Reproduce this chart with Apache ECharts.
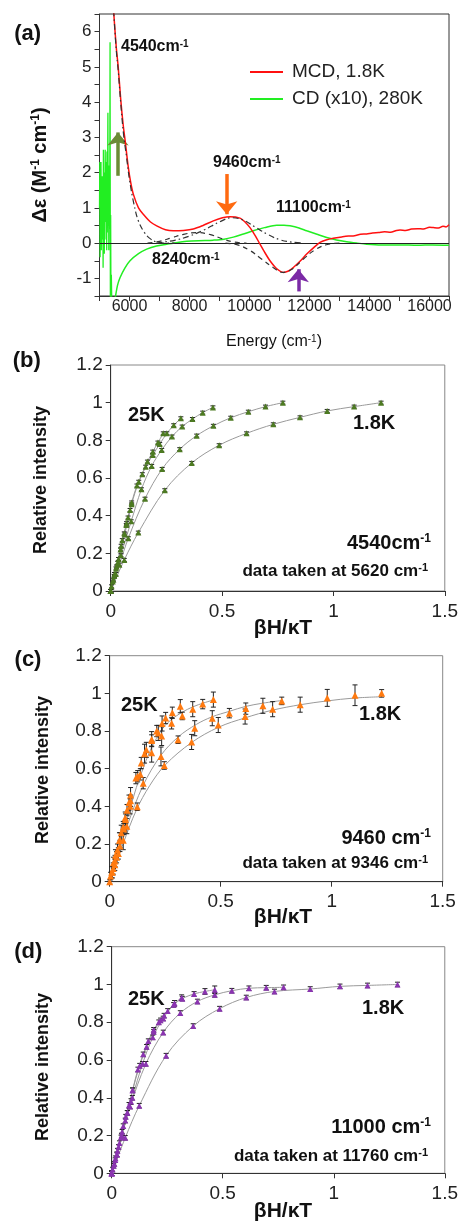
<!DOCTYPE html>
<html><head><meta charset="utf-8">
<script src="https://cdn.jsdelivr.net/npm/echarts@6/dist/echarts.min.js"></script>
<style>html,body{margin:0;padding:0;background:#fff}#c{width:461px;height:1224px}</style>
</head><body><div id="c"></div>
<script>
// ---------- Panel (a) data : energy (cm-1), delta-epsilon ----------
const mcd = [[5460,6.7],[5477,6.5],[5557,5.57],[5623,5.0],[5710,4.05],[5790,3.35],[5867,2.82],[5960,2.15],[6040,1.72],[6127,1.39],[6300,1.0],[6460,0.82],[6700,0.6],[6907,0.49],[7200,0.38],[7460,0.35],[7800,0.36],[8127,0.4],[8450,0.5],[8793,0.63],[9100,0.72],[9350,0.75],[9683,0.71],[9850,0.6],[10017,0.44],[10200,0.2],[10350,-0.03],[10520,-0.28],[10683,-0.5],[10900,-0.72],[11127,-0.83],[11300,-0.79],[11460,-0.69],[11700,-0.5],[11907,-0.31],[12150,-0.12],[12350,0.02],[12550,0.09],[12793,0.14],[13100,0.18],[13300,0.2],[13500,0.21],[13700,0.25],[13907,0.26],[14100,0.29],[14300,0.3],[14500,0.32],[14700,0.31],[14900,0.36],[15017,0.37],[15200,0.36],[15400,0.4],[15600,0.41],[15800,0.4],[16000,0.45],[16127,0.44],[16300,0.43],[16450,0.48],[16550,0.46],[16650,0.52]];
const cdNoise = [[5000,1.0],[5010,2.3],[5020,-0.4],[5030,1.6],[5040,0.3],[5050,2.3],[5060,-0.2],[5070,1.2],[5080,0.2],[5090,1.9],[5100,0.1],[5110,1.4],[5120,-0.7],[5130,2.65],[5140,0.4],[5150,1.5],[5160,-0.3],[5170,2.0],[5180,0.6],[5190,2.65],[5200,0.8],[5210,2.3],[5220,0.1],[5230,1.7],[5240,-0.2],[5250,2.6],[5260,0.3],[5270,1.9],[5280,3.7],[5290,0.5],[5300,2.2],[5310,-0.2],[5320,1.6],[5330,2.15],[5340,0.4],[5352,5.7],[5362,-1.6],[5372,0.8],[5382,-1.6],[5395,-0.9],[5410,-1.7],[5440,-1.7],[5480,-1.6],[5517,-1.6]];
const cd = [[5517,-1.6],[5600,-1.2],[5683,-0.98],[5850,-0.7],[6017,-0.5],[6300,-0.3],[6573,-0.17],[6900,-0.08],[7240,-0.03],[7600,0.02],[7907,0.05],[8300,0.07],[8793,0.085],[9150,0.11],[9460,0.17],[9800,0.26],[10127,0.35],[10500,0.44],[10907,0.51],[11150,0.51],[11350,0.49],[11650,0.43],[11907,0.35],[12250,0.25],[12573,0.16],[12900,0.09],[13240,0.04],[13600,0.0],[13907,-0.03],[14400,-0.05],[15017,-0.05],[15600,-0.06],[16100,-0.05],[16650,-0.06]];
const band4540 = [[5470,6.6],[5557,5.5],[5623,4.9],[5710,3.95],[5800,3.1],[5900,2.45],[6000,1.8],[6150,1.1],[6300,0.62],[6500,0.3],[6700,0.12],[6900,0.03],[7100,0],[7500,0]];
const band8240 = [[6600,0],[7000,0.05],[7400,0.15],[7800,0.25],[8240,0.3],[8700,0.24],[9100,0.12],[9500,0.03],[9900,0]];
const band9460 = [[6900,0],[7500,0.08],[8000,0.2],[8500,0.38],[9000,0.6],[9400,0.72],[9800,0.65],[10200,0.45],[10600,0.25],[11000,0.1],[11400,0.03],[11800,0]];
const band11000 = [[9200,0],[9600,-0.05],[10000,-0.2],[10400,-0.45],[10800,-0.7],[11100,-0.83],[11400,-0.75],[11800,-0.45],[12200,-0.18],[12600,-0.04],[13000,0]];
// arrows: [energy, from, to]
const arrowGreen = [5617, 1.91, 3.14];
const arrowOrange = [9240, 1.96, 0.82];
const arrowPurple = [11627, -1.37, -0.74];

// ---------- Panel (b) : [betaH/kT, relative intensity, error] ----------
const b18 = [[0,0,0.008],[0.061,0.165,0.008],[0.124,0.31,0.008],[0.243,0.535,0.008],[0.364,0.68,0.008],[0.487,0.774,0.008],[0.61,0.837,0.008],[0.73,0.885,0.008],[0.85,0.922,0.008],[0.972,0.956,0.008],[1.093,0.979,0.008],[1.214,1.0,0.008]];
const b28 = [[0,0,0.008],[0.039,0.14,0.008],[0.079,0.28,0.008],[0.154,0.49,0.008],[0.231,0.648,0.008],[0.31,0.753,0.008],[0.386,0.825,0.008],[0.461,0.877,0.008],[0.539,0.92,0.008],[0.618,0.952,0.008],[0.695,0.979,0.008],[0.773,1.0,0.008]];
const b47 = [[0,0,0.008],[0.023,0.09,0.008],[0.046,0.19,0.008],[0.092,0.37,0.008],[0.138,0.54,0.008],[0.184,0.664,0.008],[0.229,0.749,0.008],[0.275,0.82,0.008],[0.321,0.873,0.008],[0.367,0.913,0.008],[0.413,0.947,0.008],[0.459,0.975,0.008]];
const b7 = [[0,0,0.008],[0.016,0.08,0.008],[0.031,0.15,0.008],[0.063,0.3,0.008],[0.094,0.46,0.008],[0.126,0.58,0.008],[0.157,0.66,0.008],[0.189,0.722,0.008],[0.22,0.78,0.008],[0.252,0.837,0.008],[0.283,0.88,0.008],[0.315,0.917,0.008]];
const b10 = [[0,0,0.008],[0.012,0.06,0.008],[0.024,0.12,0.008],[0.047,0.24,0.008],[0.071,0.36,0.008],[0.094,0.47,0.008],[0.118,0.56,0.008],[0.142,0.62,0.008],[0.165,0.687,0.008],[0.189,0.74,0.008],[0.212,0.788,0.008],[0.236,0.837,0.008]];
const b25 = [[0,0,0.008],[0.004,0.025,0.008],[0.009,0.05,0.008],[0.017,0.09,0.008],[0.026,0.13,0.008],[0.035,0.17,0.008],[0.044,0.22,0.008],[0.052,0.27,0.008],[0.061,0.306,0.008],[0.07,0.35,0.008],[0.078,0.39,0.008],[0.087,0.43,0.008]];

// ---------- Panel (c) ----------
const c18 = [[0.061,0.22,0.05],[0.124,0.398,0.02],[0.246,0.617,0.02],[0.369,0.742,0.04],[0.489,0.832,0.04],[0.61,0.877,0.04],[0.734,0.916,0.04],[0.858,0.94,0.04],[0.98,0.976,0.045],[1.105,0.99,0.055],[1.225,1.0,0.02]];
const c28 = [[0.039,0.15,0.03],[0.077,0.295,0.04],[0.151,0.523,0.03],[0.231,0.665,0.05],[0.308,0.754,0.02],[0.383,0.815,0.04],[0.462,0.868,0.04],[0.539,0.895,0.025],[0.613,0.919,0.03],[0.69,0.934,0.04],[0.775,0.96,0.02]];
const c47 = [[0.023,0.09,0.03],[0.046,0.19,0.03],[0.092,0.4,0.04],[0.138,0.57,0.03],[0.189,0.685,0.05],[0.234,0.773,0.05],[0.279,0.841,0.03],[0.327,0.88,0.02],[0.374,0.916,0.04],[0.419,0.943,0.025],[0.467,0.967,0.04]];
const c7 = [[0.016,0.07,0.03],[0.031,0.13,0.03],[0.063,0.28,0.03],[0.094,0.43,0.03],[0.126,0.56,0.03],[0.157,0.68,0.05],[0.189,0.757,0.04],[0.219,0.79,0.04],[0.252,0.869,0.03],[0.282,0.897,0.03],[0.318,0.932,0.035]];
const c10 = [[0.012,0.05,0.03],[0.024,0.11,0.03],[0.047,0.22,0.04],[0.071,0.33,0.03],[0.094,0.46,0.04],[0.118,0.55,0.03],[0.142,0.63,0.03],[0.165,0.7,0.04],[0.189,0.75,0.03],[0.212,0.8,0.03],[0.236,0.84,0.04]];
const c25 = [[0,0,0.01],[0.004,0.03,0.02],[0.009,0.05,0.03],[0.017,0.1,0.03],[0.026,0.14,0.03],[0.035,0.17,0.03],[0.044,0.22,0.04],[0.052,0.26,0.04],[0.061,0.29,0.03],[0.07,0.34,0.03],[0.078,0.38,0.03],[0.087,0.42,0.04]];
const cFit18 = [[0,0],[0.06,0.2],[0.12,0.38],[0.18,0.51],[0.25,0.62],[0.37,0.74],[0.49,0.82],[0.61,0.87],[0.73,0.91],[0.86,0.94],[0.98,0.96],[1.1,0.975],[1.225,0.982]];
const cFit28 = [[0,0],[0.04,0.15],[0.08,0.3],[0.15,0.51],[0.23,0.67],[0.31,0.77],[0.39,0.835],[0.46,0.875],[0.54,0.905],[0.61,0.93],[0.69,0.948],[0.775,0.962]];
const cFitHi = [[0,0],[0.03,0.13],[0.06,0.26],[0.09,0.38],[0.12,0.5],[0.15,0.6],[0.18,0.69],[0.21,0.76],[0.25,0.83],[0.3,0.88],[0.35,0.915],[0.4,0.94],[0.467,0.965]];

// ---------- Panel (d) ----------
const d18 = [[0,0,0.012],[0.061,0.188,0.012],[0.124,0.358,0.012],[0.245,0.623,0.012],[0.367,0.78,0.012],[0.486,0.872,0.012],[0.606,0.931,0.012],[0.733,0.963,0.012],[0.894,0.976,0.012],[1.028,0.99,0.012],[1.152,0.995,0.012],[1.287,1.0,0.012]];
const d28 = [[0,0,0.012],[0.042,0.19,0.012],[0.083,0.354,0.012],[0.154,0.58,0.012],[0.232,0.746,0.012],[0.309,0.849,0.012],[0.386,0.91,0.012],[0.464,0.945,0.012],[0.541,0.967,0.012],[0.618,0.98,0.012],[0.696,0.983,0.012],[0.774,0.985,0.012]];
const d47 = [[0,0,0.012],[0.023,0.1,0.012],[0.046,0.2,0.012],[0.093,0.4,0.012],[0.139,0.58,0.012],[0.185,0.72,0.012],[0.232,0.82,0.012],[0.279,0.892,0.012],[0.318,0.925,0.012],[0.371,0.95,0.012],[0.42,0.963,0.015],[0.464,0.972,0.02]];
const d7 = [[0,0,0.012],[0.016,0.07,0.012],[0.031,0.14,0.012],[0.063,0.3,0.012],[0.094,0.44,0.012],[0.126,0.57,0.012],[0.157,0.67,0.012],[0.189,0.75,0.012],[0.22,0.81,0.012],[0.252,0.86,0.012],[0.283,0.9,0.015],[0.315,0.93,0.015]];
const d10 = [[0,0,0.012],[0.012,0.05,0.012],[0.024,0.1,0.012],[0.047,0.22,0.012],[0.071,0.32,0.012],[0.094,0.44,0.012],[0.118,0.55,0.012],[0.142,0.63,0.012],[0.165,0.7,0.012],[0.189,0.76,0.012],[0.212,0.8,0.012],[0.236,0.835,0.012]];
const d25 = [[0,0,0.012],[0.004,0.02,0.012],[0.009,0.04,0.012],[0.017,0.08,0.012],[0.026,0.12,0.012],[0.035,0.16,0.012],[0.044,0.2,0.012],[0.052,0.25,0.012],[0.061,0.28,0.012],[0.07,0.32,0.012],[0.078,0.36,0.015],[0.087,0.38,0.015]];

const xTicksA = [6000, 8000, 10000, 12000, 14000, 16000];

// ---------- build chart ----------
const FF = "'Liberation Sans', Arial, sans-serif";
const chart = echarts.init(document.getElementById('c'), null, {renderer:'canvas'});

function errRender(params, api){
  const x = api.value(0), y = api.value(1), e = api.value(2);
  const t = api.coord([x, y + e]), b = api.coord([x, y - e]);
  const hw = 2.5, st = {stroke:'#222', lineWidth:1};
  return {type:'group', children:[
    {type:'line', shape:{x1:t[0], y1:t[1], x2:b[0], y2:b[1]}, style:st},
    {type:'line', shape:{x1:t[0]-hw, y1:t[1], x2:t[0]+hw, y2:t[1]}, style:st},
    {type:'line', shape:{x1:b[0]-hw, y1:b[1], x2:b[0]+hw, y2:b[1]}, style:st}
  ]};
}
const xy = a => a.map(p => [p[0], p[1]]);
const series = [];
// panel a
series.push({name:'MCD, 1.8K', type:'line', xAxisIndex:0, yAxisIndex:0, data:mcd, smooth:0.3, symbol:'none', lineStyle:{color:'#ff1010', width:1.5}, itemStyle:{color:'#ff1010'}, z:5,
  markLine:{silent:true, symbol:'none', label:{show:false}, lineStyle:{color:'#222', width:1, type:'solid'}, data:[{yAxis:0}]}});
series.push({name:'CD (x10), 280K', type:'line', xAxisIndex:0, yAxisIndex:0, data:cdNoise, smooth:false, symbol:'none', lineStyle:{color:'#22ee22', width:1.3}, itemStyle:{color:'#22ee22'}, z:4});
series.push({name:'CD (x10), 280K', type:'line', xAxisIndex:0, yAxisIndex:0, data:cd, smooth:0.3, symbol:'none', lineStyle:{color:'#22ee22', width:1.5}, itemStyle:{color:'#22ee22'}, z:4});
const dashDot = [6,3,1.5,3];
[[band4540, dashDot],[band8240,[5,4]],[band9460,dashDot],[band11000,[5,4]]].forEach(([d, t]) => {
  series.push({name:'fit', type:'line', xAxisIndex:0, yAxisIndex:0, data:d, smooth:0.4, symbol:'none', lineStyle:{color:'#333', width:1.2, type:t}, z:6});
});
function arrow(a, color){
  return {name:'arrow', type:'line', xAxisIndex:0, yAxisIndex:0, data:[], z:7,
    markLine:{silent:true, symbol:['none','arrow'], symbolSize:[16,13], label:{show:false},
      lineStyle:{color:color, width:3.5, type:'solid', opacity:1},
      data:[[{coord:[a[0], a[1]]},{coord:[a[0], a[2]]}]]}};
}
series.push(arrow(arrowGreen, '#6b8b35'));
series.push(arrow(arrowOrange, '#ff6a10'));
series.push(arrow(arrowPurple, '#7b2aa6'));

// panels b,c,d
function addPanel(idx, curves, color, size, fits){
  const lines = fits || curves.map(xy);
  lines.forEach(d => series.push({type:'line', xAxisIndex:idx, yAxisIndex:idx, data:d, smooth:0.35, symbol:'none', lineStyle:{color:'#9a9a9a', width:1}, z:2}));
  curves.forEach(d => {
    series.push({type:'custom', xAxisIndex:idx, yAxisIndex:idx, data:d, renderItem:errRender, encode:{x:0, y:1}, z:3});
    series.push({type:'scatter', xAxisIndex:idx, yAxisIndex:idx, data:xy(d), symbol:'triangle', symbolSize:size, itemStyle:{color:color, opacity:1}, z:4});
  });
}
addPanel(1, [b18,b28,b47,b7,b10,b25], '#4d7a22', 6);
addPanel(2, [c18,c28,c47,c7,c10,c25], '#ff7a10', 7, [cFit18, cFit28, cFitHi]);
addPanel(3, [d18,d28,d47,d7,d10,d25], '#8a34b0', 6);

const grids = [
  {left:99.5, top:14, width:349.5, height:282, show:true, borderColor:'#333', borderWidth:1},
  {left:110.7, top:365, width:335, height:226, show:true, borderColor:'#888', borderWidth:1},
  {left:109.7, top:655.7, width:333, height:226, show:true, borderColor:'#888', borderWidth:1},
  {left:111.7, top:946.7, width:334, height:226.6, show:true, borderColor:'#888', borderWidth:1}
];
const xAxes = [
  {gridIndex:0, type:'value', min:5000, max:16650, interval:1000,
   axisLine:{show:true, onZero:false, lineStyle:{color:'#333'}}, axisTick:{show:true, length:5, lineStyle:{color:'#333'}},
   splitLine:{show:false}, axisLabel:{fontSize:16, fontFamily:FF, color:'#222', margin:3, formatter:v => xTicksA.indexOf(v) >= 0 ? String(v) : ''}}
];
const yAxes = [
  {gridIndex:0, type:'value', min:-1.5, max:6.5, interval:0.5,
   axisLine:{show:true, onZero:false, lineStyle:{color:'#333'}}, axisTick:{show:true, length:5, lineStyle:{color:'#333'}},
   splitLine:{show:false}, axisLabel:{fontSize:17, fontFamily:FF, color:'#222', margin:8, formatter:v => Number.isInteger(v) ? String(v) : ''}}
];
for (let i = 1; i <= 3; i++){
  xAxes.push({gridIndex:i, type:'value', min:0, max:1.5, interval:0.5,
    axisLine:{show:true, onZero:false, lineStyle:{color:'#333'}}, axisTick:{show:true, length:5, lineStyle:{color:'#333'}},
    splitLine:{show:false}, axisLabel:{fontSize:19, fontFamily:FF, color:'#222', margin:11}});
  yAxes.push({gridIndex:i, type:'value', min:0, max:1.2, interval:0.2,
    axisLine:{show:true, onZero:false, lineStyle:{color:'#333'}}, axisTick:{show:true, length:5, lineStyle:{color:'#333'}},
    splitLine:{show:false}, axisLabel:{fontSize:19, fontFamily:FF, color:'#222', margin:8}});
}

const SUP = (fs) => ({fontSize:fs, fontWeight:'bold', fontFamily:FF, fill:'#111', verticalAlign:'top'});
const B = (fs) => ({fontSize:fs, fontWeight:'bold', fontFamily:FF, fill:'#111'});
function T(x, y, text, fs, opt){
  opt = opt || {};
  return {type:'text', x:x, y:y, rotation:opt.rot || 0, z:100,
    style:{text:text, fontSize:fs, fontWeight:opt.normal ? 'normal' : 'bold', fontFamily:FF, fill:'#111',
      align:opt.align || 'left', verticalAlign:'middle',
      rich:{b:Object.assign(B(fs), opt.normal ? {fontWeight:'normal'} : {}), s:Object.assign(SUP(opt.sfs || Math.round(fs*0.62)), opt.normal ? {fontWeight:'normal'} : {})}}};
}
const graphic = [
  T(27.7, 34, '(a)', 22, {align:'center'}),
  T(40, 165, '{b|Δε (M}{s|-1}{b| cm}{s|-1}{b|)}', 20, {align:'center', rot:Math.PI/2}),
  T(274, 342, '{b|Energy (cm}{s|-1}{b|)}', 16, {align:'center', normal:true}),
  T(121, 47, '{b|4540cm}{s|-1}', 16),
  T(213, 163, '{b|9460cm}{s|-1}', 16),
  T(276, 208, '{b|11100cm}{s|-1}', 16),
  T(152, 260, '{b|8240cm}{s|-1}', 16),
  T(26.7, 361, '(b)', 22, {align:'center'}),
  T(28, 660, '(c)', 22, {align:'center'}),
  T(28.3, 952, '(d)', 22, {align:'center'}),
  T(41, 480, 'Relative intensity', 18, {align:'center', rot:Math.PI/2}),
  T(43, 770, 'Relative intensity', 18, {align:'center', rot:Math.PI/2}),
  T(43, 1067, 'Relative intensity', 18, {align:'center', rot:Math.PI/2}),
  T(283, 628, 'βH/κT', 21, {align:'center'}),
  T(283, 917, 'βH/κT', 21, {align:'center'}),
  T(283, 1211, 'βH/κT', 21, {align:'center'}),
  T(128, 415, '25K', 20), T(121, 705, '25K', 20), T(128, 999, '25K', 20),
  T(353, 423, '1.8K', 20), T(359, 714, '1.8K', 20), T(362, 1008, '1.8K', 20),
  T(431, 543, '{b|4540cm}{s|-1}', 20, {align:'right'}),
  T(431, 838, '{b|9460 cm}{s|-1}', 20, {align:'right'}),
  T(431, 1127, '{b|11000 cm}{s|-1}', 20, {align:'right'}),
  T(428, 571, '{b|data taken at 5620 cm}{s|-1}', 17, {align:'right'}),
  T(428, 863, '{b|data taken at 9346 cm}{s|-1}', 17, {align:'right'}),
  T(428, 1156, '{b|data taken at 11760 cm}{s|-1}', 17, {align:'right'})
];

chart.setOption({
  animation:false,
  grid:grids, xAxis:xAxes, yAxis:yAxes, series:series, graphic:graphic,
  legend:{data:['MCD, 1.8K','CD (x10), 280K'], orient:'vertical', left:245, top:57, itemWidth:33, itemHeight:14, itemGap:7,
    icon:'path://M0,6 L33,6 L33,8 L0,8 Z',
    textStyle:{fontSize:19, fontFamily:FF, color:'#222', lineHeight:20, padding:[0,0,0,4]}}
});
</script></body></html>
